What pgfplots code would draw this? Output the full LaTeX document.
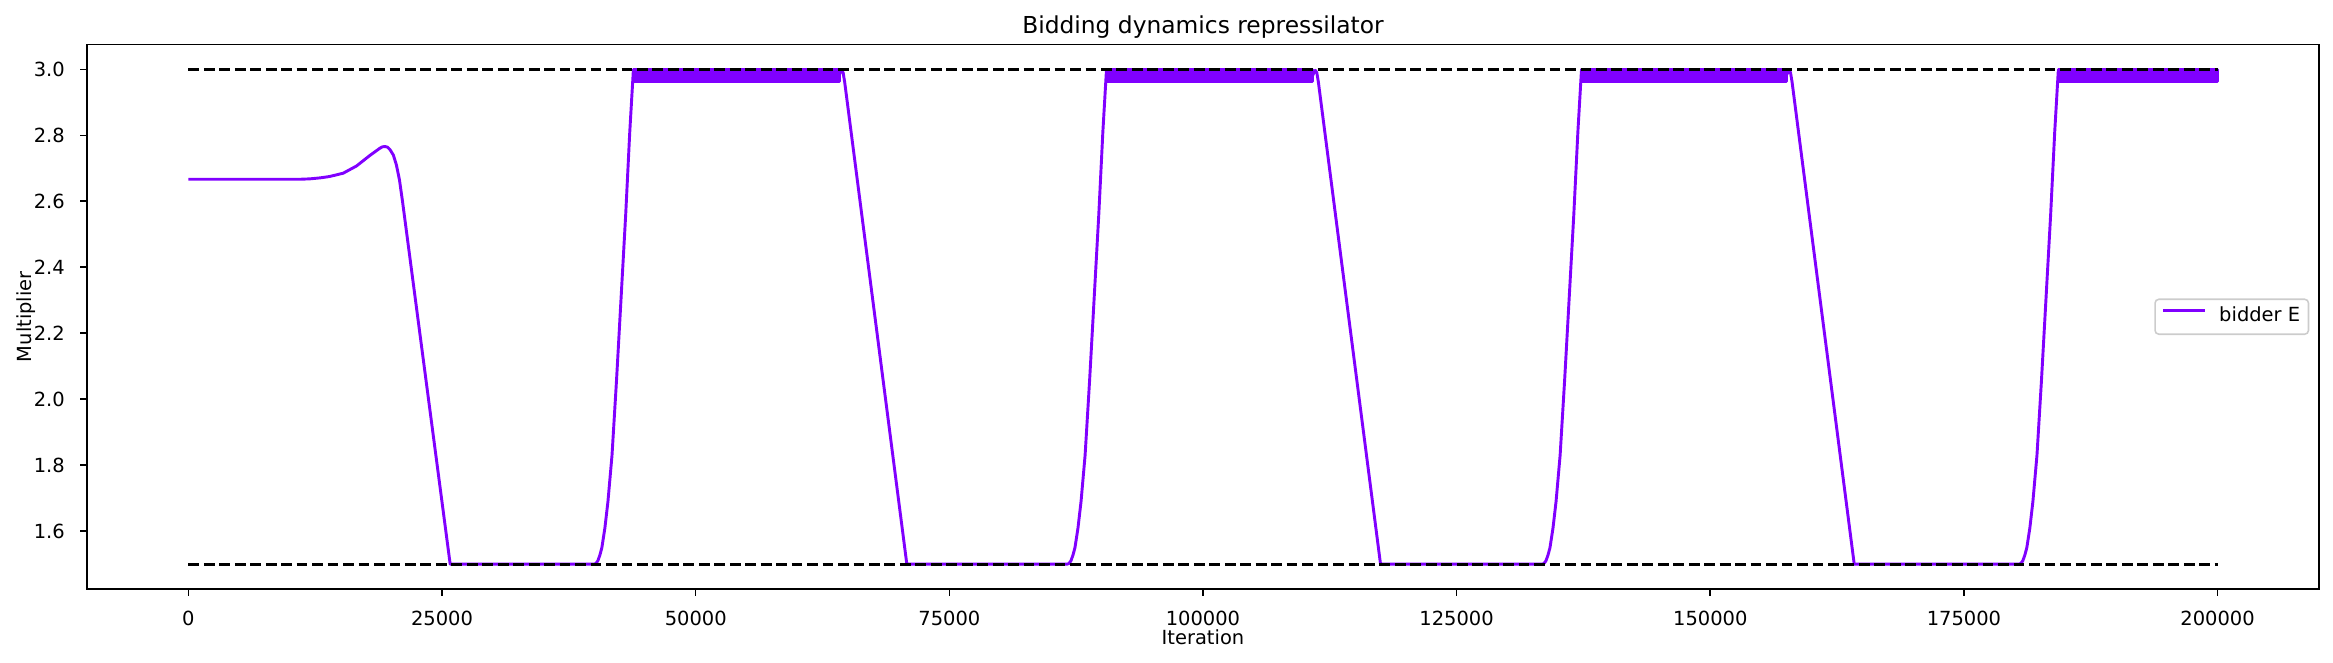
\documentclass[border=0pt]{standalone}
\usepackage{fontspec}
\setmainfont{DejaVu Sans}
\usepackage{pgfplots}
\pgfplotsset{compat=1.18}
\definecolor{bidE}{RGB}{128,0,255}
\begin{document}
\begin{tikzpicture}
\path[use as bounding box] (-44.7pt,-38.0pt) rectangle (1154.4pt,302.7pt);
\begin{axis}[
  at={(0pt,0pt)}, anchor=south west,
  width=1147.2pt, height=279.8pt, scale only axis,
  xmin=-10000, xmax=210000, ymin=1.425, ymax=3.075,
  xtick={0,25000,50000,75000,100000,125000,150000,175000,200000},
  ytick={1.6,1.8,2.0,2.2,2.4,2.6,2.8,3.0},
  scaled x ticks=false, scaled y ticks=false,
  xticklabels={0,25000,50000,75000,100000,125000,150000,175000,200000},
  yticklabels={1.6,1.8,2.0,2.2,2.4,2.6,2.8,3.0},
  xticklabel style={anchor=base, inner sep=0pt, yshift=-15.1pt},
  yticklabel style={anchor=east, inner sep=0pt, xshift=-7.7pt},
  tick pos=left, tick align=outside, major tick length=3.5pt,
  every tick/.style={black, line width=0.8pt},
  axis line style={line width=0.8pt},
  title={Bidding dynamics repressilator},
  title style={at={(0.5,1)}, font=\fontsize{12}{14.4}\selectfont, anchor=base, yshift=-0.2pt, inner sep=0pt},
  xlabel={Iteration},
  xlabel style={at={(axis description cs:0.5,0)}, anchor=base, yshift=-28.8pt, inner sep=0pt},
  ylabel={Multiplier},
  ylabel style={at={(axis description cs:-0.0315,0.5)}, anchor=north, inner sep=0pt},
  legend style={at={(1,0.5)}, anchor=east, xshift=-5pt, draw=black!20, line width=0.8pt,
    rounded corners=2pt, fill=white, fill opacity=0.8, text opacity=1,
    inner xsep=4.3pt, inner ysep=4pt, column sep=7.2pt,
    nodes={inner sep=0pt, text height=7.6pt, text depth=2.4pt},
    font=\fontsize{10}{12}\selectfont},
  legend image code/.code={\draw[#1, line cap=rect] (0pt,3.2pt) -- (20pt,3.2pt);},
]
% oscillation bands near 3.0 (values swing between about 2.964 and 3.0)
\addplot[draw=bidE, fill=bidE, line width=1.5pt, line join=round, forget plot] coordinates {(43850,2.964) (64130,2.964) (64130,3.0) (43850,3.0) (43850,2.964)};
\addplot[draw=bidE, fill=bidE, line width=1.5pt, line join=round, forget plot] coordinates {(90480,2.964) (110820,2.964) (110820,3.0) (90480,3.0) (90480,2.964)};
\addplot[draw=bidE, fill=bidE, line width=1.5pt, line join=round, forget plot] coordinates {(137300,2.964) (157510,2.964) (157510,3.0) (137300,3.0) (137300,2.964)};
\addplot[draw=bidE, fill=bidE, line width=1.5pt, line join=round, forget plot] coordinates {(184300,2.964) (200000,2.964) (200000,3.0) (184300,3.0) (184300,2.964)};
\addplot[bidE, line width=1.5pt, line join=round] coordinates {
(0,2.6667) (11000,2.6667) (12000,2.668) (13000,2.671) (13900,2.675) (15250,2.685) (16570,2.707) (17890,2.739) (18880,2.761) (19130,2.765) (19370,2.766) (19620,2.764) (19860,2.757) (20200,2.74) (20500,2.71) (20800,2.665) (21100,2.60) (25800,1.5)
(39950,1.5) (40150,1.502) (40350,1.51) (40550,1.527) (40750,1.55) (41050,1.61) (41350,1.69) (41750,1.83) (42200,2.06) (42650,2.31) (43100,2.56) (43500,2.81) (43850,2.995)
(64130,2.982) (64250,2.99) (64380,2.997) (64530,2.99) (64680,2.962) (70810,1.5)
(86580,1.5) (86780,1.502) (86980,1.51) (87180,1.527) (87380,1.55) (87680,1.61) (87980,1.69) (88380,1.83) (88830,2.06) (89280,2.31) (89730,2.56) (90130,2.81) (90480,2.995)
(110820,2.982) (110940,2.99) (111070,2.997) (111220,2.99) (111370,2.962) (117500,1.5)
(133400,1.5) (133600,1.502) (133800,1.51) (134000,1.527) (134200,1.55) (134500,1.61) (134800,1.69) (135200,1.83) (135650,2.06) (136100,2.31) (136550,2.56) (136950,2.81) (137300,2.995)
(157510,2.982) (157630,2.99) (157760,2.997) (157910,2.99) (158060,2.962) (164190,1.5)
(180400,1.5) (180600,1.502) (180800,1.51) (181000,1.527) (181200,1.55) (181500,1.61) (181800,1.69) (182200,1.83) (182650,2.06) (183100,2.31) (183550,2.56) (183950,2.81) (184300,2.995)
(200000,2.982)
};
\addlegendentry{bidder E}
\addplot[black, line width=1.5pt, dash pattern=on 5.55pt off 2.4pt, forget plot] coordinates {(0,3.0) (200000,3.0)};
\addplot[black, line width=1.5pt, dash pattern=on 5.55pt off 2.4pt, forget plot] coordinates {(0,1.5) (200000,1.5)};
\end{axis}
\end{tikzpicture}
\end{document}
